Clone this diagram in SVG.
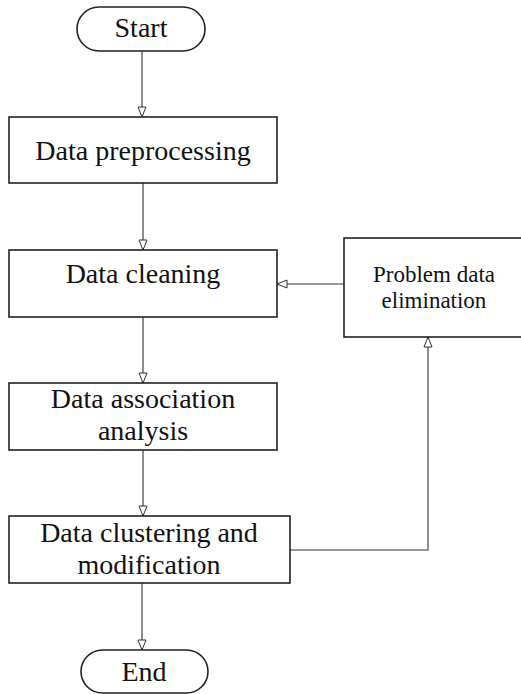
<svg xmlns="http://www.w3.org/2000/svg" width="521" height="694" viewBox="0 0 521 694">
<style>
.box{fill:#fff;stroke:#222;stroke-width:1.6}
.t{font-family:"Liberation Serif","Times New Roman",serif;font-size:28px;fill:#111;text-anchor:middle}
.ts{font-family:"Liberation Serif","Times New Roman",serif;font-size:23px;fill:#111;text-anchor:middle}
.c{fill:none;stroke:#333;stroke-width:1.1}
</style>
<defs>
<marker id="ah" markerUnits="userSpaceOnUse" markerWidth="12" markerHeight="12" viewBox="0 0 12 12" refX="11" refY="6" orient="auto">
<path d="M1,2 L11,6 L1,10 Z" fill="#fff" stroke="#333" stroke-width="1"/>
</marker>
</defs>
<g id="connectors">
<line class="c" x1="142" y1="51" x2="142" y2="117" marker-end="url(#ah)"/>
<line class="c" x1="143" y1="183" x2="143" y2="250" marker-end="url(#ah)"/>
<line class="c" x1="143" y1="317" x2="143" y2="383" marker-end="url(#ah)"/>
<line class="c" x1="143" y1="450" x2="143" y2="516" marker-end="url(#ah)"/>
<line class="c" x1="142" y1="583" x2="142" y2="650" marker-end="url(#ah)"/>
<line class="c" x1="344" y1="284" x2="277" y2="284" marker-end="url(#ah)"/>
<polyline class="c" points="290,550 428,550 428,337" marker-end="url(#ah)"/>
</g>
<g id="start">
<rect class="box" x="77" y="7" width="128" height="44" rx="22" ry="22"/>
<text class="t" x="141" y="37">Start</text>
</g>
<g id="preprocessing">
<rect class="box" x="9" y="117" width="268" height="66"/>
<text class="t" x="143" y="160">Data preprocessing</text>
</g>
<g id="cleaning">
<rect class="box" x="9" y="250" width="268" height="67"/>
<text class="t" x="143" y="283">Data cleaning</text>
</g>
<g id="elimination">
<rect class="box" x="344" y="238" width="190" height="99"/>
<text class="ts" x="434" y="282">Problem data</text>
<text class="ts" x="434" y="308">elimination</text>
</g>
<g id="association">
<rect class="box" x="9" y="383" width="268" height="67"/>
<text class="t" x="143" y="408">Data association</text>
<text class="t" x="143" y="440">analysis</text>
</g>
<g id="clustering">
<rect class="box" x="9" y="516" width="281" height="67"/>
<text class="t" x="149" y="542">Data clustering and</text>
<text class="t" x="149" y="574">modification</text>
</g>
<g id="end">
<rect class="box" x="81" y="650" width="127" height="43" rx="21.5" ry="21.5"/>
<text class="t" x="144" y="681">End</text>
</g>
</svg>
